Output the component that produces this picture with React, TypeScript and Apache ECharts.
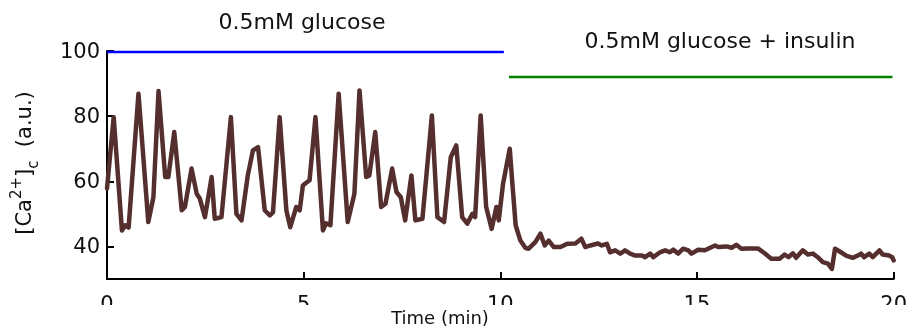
import React, { useEffect, useRef } from "react";
import * as echarts from "echarts";

// Time (min) of each sample of the calcium trace
const time = [
  0, 0.17, 0.38, 0.46, 0.55, 0.8, 1.05, 1.18, 1.31, 1.48, 1.56, 1.71, 1.9, 1.98, 2.15, 2.28, 2.36, 2.49,
  2.66, 2.74, 2.91, 3.15, 3.29, 3.42, 3.58, 3.71, 3.84, 4.01, 4.14, 4.22, 4.39, 4.56, 4.66, 4.81, 4.9,
  4.98, 5.05, 5.15, 5.3, 5.49, 5.57, 5.68, 5.89, 6.12, 6.29, 6.42, 6.59, 6.67, 6.82, 6.97, 7.08, 7.25,
  7.36, 7.47, 7.58, 7.74, 7.84, 8.02, 8.26, 8.4, 8.57, 8.74, 8.88, 9.03, 9.16, 9.29, 9.36, 9.5, 9.64,
  9.78, 9.9, 9.96, 10.07, 10.24, 10.3, 10.39, 10.51, 10.64, 10.72, 10.89, 11.02, 11.13, 11.23, 11.36,
  11.53, 11.7, 11.91, 12.06, 12.16, 12.29, 12.48, 12.58, 12.71, 12.79, 12.92, 13.05, 13.17, 13.3,
  13.43, 13.6, 13.68, 13.81, 13.89, 14.06, 14.19, 14.31, 14.4, 14.52, 14.65, 14.78, 14.86, 15.03,
  15.2, 15.46, 15.54, 15.75, 15.88, 16.0, 16.13, 16.3, 16.55, 16.72, 16.89, 17.1, 17.23, 17.33, 17.44,
  17.52, 17.69, 17.82, 17.95, 18.07, 18.2, 18.33, 18.43, 18.51, 18.66, 18.79, 18.96, 19.09, 19.17,
  19.25, 19.38, 19.47, 19.64, 19.72, 19.89, 19.97, 20.0,
];

// [Ca2+]c (a.u.) at each sample
const calcium = [
  57.8, 79.7, 44.9, 46.5, 45.8, 86.9, 47.5, 55.1, 87.7, 61.3, 61.3, 75.1, 51.1, 52.1, 63.9, 56.2, 54.7,
  49.0, 61.3, 48.5, 49.0, 79.7, 50.0, 48.0, 61.8, 69.5, 70.5, 51.1, 49.5, 50.5, 79.7, 51.1, 45.9, 52.1,
  51.1, 58.7, 59.4, 60.3, 79.7, 44.9, 47.1, 46.5, 86.9, 47.5, 56.2, 87.9, 61.3, 61.8, 75.1, 52.1, 53.1,
  63.9, 56.7, 55.1, 48.0, 61.8, 48.0, 48.5, 80.2, 49.0, 47.5, 67.4, 71.0, 49.0, 47.0, 50.0, 49.0, 80.2,
  52.1, 45.4, 52.1, 48.0, 59.3, 70.0, 60.3, 46.5, 41.8, 39.5, 39.3, 41.3, 43.9, 40.3, 41.8, 39.8, 39.8,
  40.8, 40.9, 42.4, 39.8, 40.3, 40.9, 40.3, 40.8, 38.2, 38.8, 37.8, 38.8, 37.8, 37.2, 37.2, 36.7, 37.8,
  36.7, 38.2, 38.8, 38.2, 39.0, 37.8, 39.3, 38.8, 37.8, 39.0, 38.8, 40.3, 39.8, 40.0, 39.6, 40.5, 39.3,
  39.4, 39.4, 37.9, 36.2, 36.2, 37.5, 36.7, 37.9, 36.5, 38.8, 37.5, 37.8, 36.7, 35.2, 34.7, 33.1, 39.3,
  38.2, 37.2, 36.5, 37.2, 37.8, 36.7, 37.8, 36.7, 38.8, 37.5, 37.2, 36.6, 35.7,
];

// Condition bars: [start, end] in minutes and level
const glucoseSpan = [0, 10.09];
const glucoseLevel = 99.7;
const insulinSpan = [10.22, 19.97];
const insulinLevel = 92;

const xTicks = [0, 5, 10, 15, 20];
const yTicks = [40, 60, 80, 100];

const glucoseLabel = "0.5mM glucose";
const insulinLabel = "0.5mM glucose + insulin";
const xName = "Time (min)";

export default function App() {
  const ref = useRef<HTMLDivElement>(null);

  useEffect(() => {
    if (!ref.current) return;
    const chart = echarts.init(ref.current, null, { renderer: "svg" });
    const font = "DejaVu Sans";
    chart.setOption({
      animation: false,
      grid: { left: 107, right: 14, top: 51, bottom: 53 },
      xAxis: {
        type: "value",
        min: 0,
        max: 20,
        interval: 5,
        splitLine: { show: false },
        axisLine: { lineStyle: { color: "#000", width: 2 } },
        axisTick: { inside: true, length: 7, lineStyle: { color: "#000", width: 2 }, customValues: xTicks },
        axisLabel: { margin: 14, fontFamily: font, fontSize: 21, color: "#111", customValues: xTicks },
      },
      yAxis: {
        type: "value",
        min: 30,
        max: 100,
        splitLine: { show: false },
        axisLine: { show: true, lineStyle: { color: "#000", width: 2 } },
        axisTick: { show: true, inside: true, length: 7, lineStyle: { color: "#000", width: 2 }, customValues: yTicks },
        axisLabel: { margin: 7, fontFamily: font, fontSize: 21, color: "#111", customValues: yTicks },
      },
      series: [
        {
          type: "line",
          data: time.map((t, i) => [t, calcium[i]]),
          showSymbol: false,
          lineStyle: { color: "#552e2e", width: 4.5, join: "round", cap: "round" },
          z: 3,
        },
        {
          type: "line",
          data: glucoseSpan.map((t) => [t, glucoseLevel]),
          showSymbol: false,
          lineStyle: { color: "#0000ff", width: 2.5 },
        },
        {
          type: "line",
          data: insulinSpan.map((t) => [t, insulinLevel]),
          showSymbol: false,
          lineStyle: { color: "#008000", width: 2.5 },
        },
      ],
      graphic: [
        {
          type: "text",
          x: 302,
          y: 21,
          style: { text: glucoseLabel, fontFamily: font, fontSize: 22, fill: "#111", align: "center", verticalAlign: "middle" },
        },
        {
          type: "text",
          x: 720,
          y: 40,
          style: { text: insulinLabel, fontFamily: font, fontSize: 22, fill: "#111", align: "center", verticalAlign: "middle" },
        },
        {
          type: "text",
          x: 24,
          y: 163,
          rotation: Math.PI / 2,
          style: {
            text: "{a|[Ca}{sup|2+}{a|]}{sub|c}{a|  (a.u.)}",
            align: "center",
            verticalAlign: "middle",
            fill: "#111",
            rich: {
              a: { fontFamily: font, fontSize: 21, lineHeight: 32, verticalAlign: "middle", fill: "#111" },
              sup: { fontFamily: font, fontSize: 15, verticalAlign: "top", fill: "#111" },
              sub: { fontFamily: font, fontSize: 15, verticalAlign: "bottom", fill: "#111" },
            },
          },
        },
        {
          type: "rect",
          z: 50,
          shape: { x: 0, y: 305, width: 910, height: 27 },
          style: { fill: "#fff" },
        },
        {
          type: "text",
          z: 51,
          x: 440,
          y: 317,
          style: { text: xName, fontFamily: font, fontSize: 18, fill: "#111", align: "center", verticalAlign: "middle" },
        },
      ],
    });
    return () => chart.dispose();
  }, []);

  return <div ref={ref} style={{ position: "fixed", left: 0, top: 0, width: 910, height: 332 }} />;
}
